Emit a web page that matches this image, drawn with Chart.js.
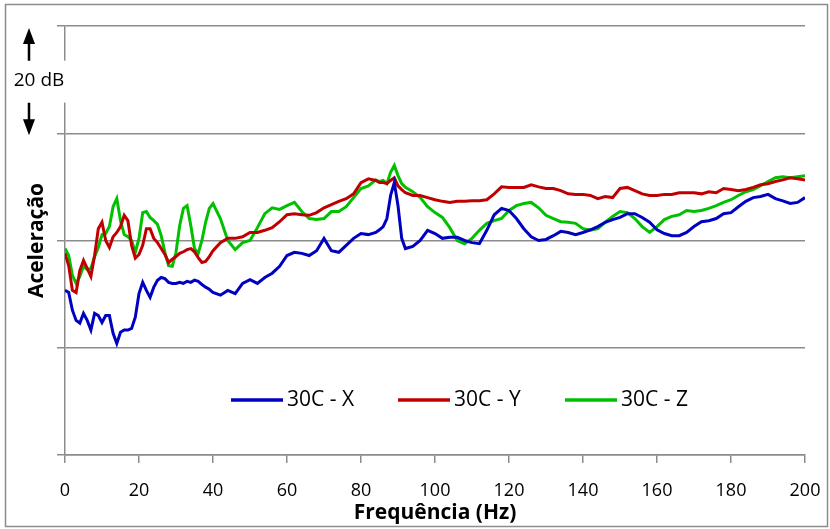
<!DOCTYPE html>
<html>
<head>
<meta charset="utf-8">
<script src="https://cdn.jsdelivr.net/npm/chart.js@4.4.1/dist/chart.umd.min.js"></script>
<style>
  html, body { margin: 0; padding: 0; background: #fff; }
  canvas { display: block; }
</style>
</head>
<body>
<canvas id="chart" width="830" height="529"></canvas>
<script>
const freqs = [
  0, 1, 2, 3, 4, 5, 6, 7, 8, 9, 10, 11, 12, 13, 14, 15, 16, 17, 18, 19,
  20, 21, 22, 23, 24, 25, 26, 27, 28, 29, 30, 31, 32, 33, 34, 35, 36, 37, 38, 39, 40,
  42, 44, 46, 48, 50, 52, 54, 56, 58, 60, 62, 64, 66, 68, 70, 72, 74, 76, 78, 80, 82, 84,
  85, 86, 87, 88, 89, 90, 91, 92,
  94, 96, 98, 100, 102, 104, 106, 108, 110, 112,
  114, 116, 118, 120, 122, 124, 126, 128, 130, 132,
  134, 136, 138, 140, 142, 144, 146, 148, 150, 152,
  154, 156, 158, 160, 162, 164, 166, 168, 170, 172,
  174, 176, 178, 180, 182, 184, 186, 188, 190, 192,
  194, 196, 198, 200
];

// acceleration level (dB, relative) for each axis
const accelX = [
  30.7, 30.3, 27.0, 25.1, 24.6, 26.4, 25.1, 23.3, 26.4, 26.0, 24.7, 26.0, 26.0, 22.7, 20.8, 22.9, 23.3, 23.3, 23.6, 25.7,
  30.1, 32.2, 30.7, 29.4, 31.3, 32.6, 33.1, 32.9, 32.2, 32.0, 32.0, 32.2, 32.0, 32.4, 32.2, 32.6, 32.4, 31.8, 31.3, 30.9, 30.3,
  29.8, 30.7, 30.1, 32.0, 32.7, 32.0, 33.1, 33.9, 35.2, 37.2, 37.8, 37.6, 37.2, 38.1, 40.4, 38.1, 37.8, 39.1, 40.4, 41.3, 41.1, 41.5,
  42.0, 42.6, 44.1, 48.4, 50.8, 46.5, 40.4, 38.5,
  38.9, 40.0, 41.9, 41.3, 40.4, 40.6, 40.6, 40.0, 39.6, 39.4,
  41.9, 44.8, 46.0, 45.6, 44.1, 42.2, 40.7, 40.0, 40.2, 40.9,
  41.7, 41.5, 41.1, 41.5, 42.0, 42.6, 43.4, 43.9, 44.3, 45.0,
  45.0, 44.3, 43.4, 42.0, 41.3, 40.9, 40.9, 41.5, 42.6, 43.5,
  43.7, 44.1, 45.0, 45.2, 46.3, 47.3, 48.0, 48.2, 48.6, 47.8,
  47.4, 46.9, 47.1, 48.0
];

const accelY = [
  37.6, 35.3, 30.7, 30.3, 34.4, 36.3, 34.8, 33.3, 37.2, 42.2, 43.4, 40.0, 38.7, 40.7, 41.5, 42.6, 44.7, 43.7, 39.1, 36.7,
  37.4, 39.1, 42.2, 42.2, 40.4, 39.6, 38.5, 37.4, 35.9, 36.5, 37.0, 37.6, 37.9, 38.3, 38.5, 37.9, 36.8, 35.9, 36.1, 37.0, 38.1,
  39.6, 40.4, 40.4, 40.7, 41.5, 41.5, 41.9, 42.4, 43.5, 44.8, 45.0, 44.8, 44.7, 45.2, 46.1, 46.7, 47.3, 47.8, 48.7, 50.8, 51.5, 51.2,
  50.8, 50.8, 50.6, 51.2, 51.7, 50.2, 49.5, 48.9,
  48.4, 48.4, 48.0, 47.6, 47.3, 47.1, 47.3, 47.3, 47.4, 47.4,
  47.6, 48.7, 50.0, 49.9, 49.9, 49.9, 50.4, 50.0, 49.7, 49.7,
  49.3, 48.7, 48.6, 48.6, 48.4, 47.8, 48.2, 48.0, 49.7, 49.9,
  49.3, 48.7, 48.4, 48.4, 48.6, 48.6, 48.9, 48.9, 48.9, 48.7,
  49.1, 48.9, 49.7, 49.5, 49.3, 49.5, 49.9, 50.4, 50.6, 51.0,
  51.3, 51.7, 51.5, 51.3
];

const accelZ = [
  38.5, 37.2, 33.5, 32.0, 33.3, 35.2, 34.6, 34.8, 37.0, 38.7, 41.1, 41.3, 42.6, 46.3, 47.8, 43.7, 41.1, 40.7, 40.0, 37.8,
  40.4, 45.2, 45.4, 44.3, 43.7, 43.0, 40.9, 37.8, 35.3, 35.2, 37.8, 42.8, 46.0, 46.5, 42.8, 38.5, 37.6, 40.0, 43.4, 46.0, 46.9,
  44.1, 40.0, 38.3, 39.6, 40.0, 42.4, 45.0, 46.1, 45.8, 46.5, 47.1, 45.4, 44.1, 43.9, 44.1, 45.4, 45.4, 46.3, 48.0, 49.7, 50.2, 51.3,
  51.0, 51.2, 50.6, 52.7, 54.0, 52.1, 50.6, 49.9,
  49.1, 48.0, 46.3, 45.2, 44.3, 42.4, 40.0, 39.4, 40.4, 41.9,
  43.2, 43.7, 44.1, 45.6, 46.5, 46.9, 47.1, 46.1, 44.7, 44.1,
  43.5, 43.4, 43.2, 42.2, 41.9, 42.2, 43.4, 44.5, 45.4, 45.2,
  44.1, 42.6, 41.5, 42.6, 43.9, 44.5, 44.8, 45.6, 45.4, 45.6,
  46.0, 46.5, 47.1, 47.6, 48.4, 49.1, 49.5, 50.2, 51.0, 51.7,
  51.9, 51.7, 51.9, 52.1
];

const seriesNames = ['30C - X', '30C - Y', '30C - Z'];
const seriesColors = ['#0000c0', '#c00000', '#00c000'];

const gridColor = '#8c8c8c';
const fontFamily = "'Open Sans', 'Noto Sans', sans-serif";

function toPoints(values) {
  return freqs.map((f, i) => ({ x: f, y: values[i] }));
}

// border, "20 dB" scale marker, y title and the legend inside the plot
const chartExtras = {
  id: 'chartExtras',
  beforeDraw(chart) {
    const ctx = chart.ctx;
    ctx.save();
    ctx.fillStyle = '#fff';
    ctx.fillRect(0, 0, chart.width, chart.height);
    ctx.strokeStyle = gridColor;
    ctx.lineWidth = 1.5;
    ctx.strokeRect(5.5, 4.5, 822, 522);
    ctx.restore();
  },
  afterDraw(chart) {
    const ctx = chart.ctx;
    const area = chart.chartArea;
    const yScale = chart.scales.y;

    ctx.save();
    ctx.fillStyle = '#000';
    ctx.strokeStyle = '#000';

    // y axis title
    ctx.save();
    ctx.translate(37, (area.top + area.bottom) / 2);
    ctx.rotate(-Math.PI / 2);
    ctx.font = 'bold 21px ' + fontFamily;
    ctx.textAlign = 'center';
    ctx.textBaseline = 'middle';
    ctx.fillText('Aceleração', 0, 0);
    ctx.restore();

    // 20 dB marker between two gridlines
    const top = yScale.getPixelForValue(80);
    const bot = yScale.getPixelForValue(60);
    const mid = (top + bot) / 2 + 1;
    const ax = 29;
    ctx.fillStyle = '#fff';
    ctx.fillRect(8, mid - 20, 62, 42);
    ctx.fillStyle = '#000';
    ctx.lineWidth = 2.5;
    ctx.beginPath();
    ctx.moveTo(ax, mid - 20);
    ctx.lineTo(ax, top + 12);
    ctx.moveTo(ax, mid + 22);
    ctx.lineTo(ax, bot - 12);
    ctx.stroke();
    ctx.beginPath();
    ctx.moveTo(ax, top + 2);
    ctx.lineTo(ax - 6, top + 18);
    ctx.lineTo(ax + 6, top + 18);
    ctx.closePath();
    ctx.moveTo(ax, bot + 2);
    ctx.lineTo(ax - 6, bot - 14);
    ctx.lineTo(ax + 6, bot - 14);
    ctx.closePath();
    ctx.fill();
    ctx.font = '19px ' + fontFamily;
    ctx.textAlign = 'center';
    ctx.textBaseline = 'middle';
    ctx.fillText('20 dB', 39, mid);

    // legend
    const ly = area.bottom - 55;
    ctx.font = '21px ' + fontFamily;
    ctx.textAlign = 'left';
    chart.data.datasets.forEach((ds, i) => {
      const x0 = 231 + i * 167;
      ctx.strokeStyle = ds.borderColor;
      ctx.lineWidth = 3.5;
      ctx.beginPath();
      ctx.moveTo(x0, ly);
      ctx.lineTo(x0 + 52, ly);
      ctx.stroke();
      ctx.fillStyle = '#000';
      ctx.fillText(ds.label, x0 + 56, ly);
    });
    ctx.restore();
  }
};

new Chart(document.getElementById('chart'), {
  type: 'line',
  data: {
    datasets: [
      { label: seriesNames[0], data: toPoints(accelX), borderColor: seriesColors[0] },
      { label: seriesNames[1], data: toPoints(accelY), borderColor: seriesColors[1] },
      { label: seriesNames[2], data: toPoints(accelZ), borderColor: seriesColors[2] }
    ]
  },
  plugins: [chartExtras],
  options: {
    responsive: false,
    animation: false,
    devicePixelRatio: 1,
    layout: { padding: { left: 57, right: 25, top: 26, bottom: 4 } },
    elements: {
      point: { radius: 0 },
      line: { borderWidth: 3, tension: 0, fill: false }
    },
    plugins: {
      legend: { display: false },
      tooltip: { enabled: false }
    },
    scales: {
      x: {
        type: 'linear',
        min: 0,
        max: 200,
        // keep the axis band the same size as in the original picture
        afterFit(scale) {
          scale.height = 70;
          scale.paddingLeft = 0;
          scale.paddingRight = 0;
        },
        ticks: {
          stepSize: 20,
          padding: 17,
          maxRotation: 0,
          color: '#000',
          font: { family: fontFamily, size: 18 }
        },
        grid: { drawOnChartArea: false, drawTicks: true, tickLength: 8, color: gridColor, lineWidth: 1.5 },
        border: { color: gridColor, width: 1.5 },
        title: {
          display: true,
          text: 'Frequência (Hz)',
          color: '#000',
          font: { family: fontFamily, size: 21, weight: 'bold', lineHeight: 1.1 },
          padding: { top: 0, bottom: 0 }
        }
      },
      y: {
        min: 0,
        max: 80,
        ticks: { display: false, stepSize: 20 },
        grid: { color: gridColor, lineWidth: 1.5, tickLength: 8 },
        border: { color: gridColor, width: 1.5 }
      }
    }
  }
});
</script>
</body>
</html>
